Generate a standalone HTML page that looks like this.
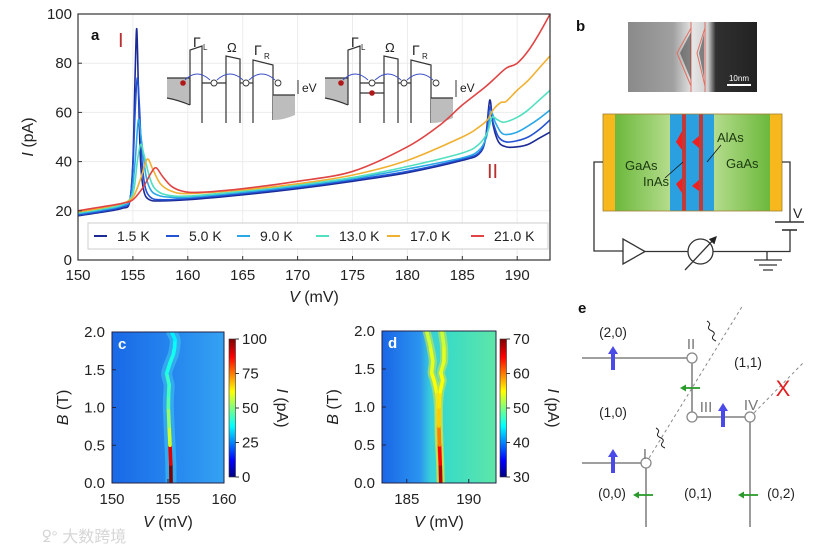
<!DOCTYPE html>
<html><head><meta charset="utf-8"><style>
html,body{margin:0;padding:0;background:#fff;}
svg{display:block;font-family:"Liberation Sans","Noto Sans CJK SC",sans-serif;}
</style></head><body>
<svg id="fig" width="831" height="551" viewBox="0 0 831 551" xmlns="http://www.w3.org/2000/svg">
<defs>
<linearGradient id="jet" x1="0" y1="1" x2="0" y2="0">
<stop offset="0" stop-color="#00007f"/><stop offset="0.12" stop-color="#0000ff"/><stop offset="0.37" stop-color="#00ffff"/><stop offset="0.5" stop-color="#7fff7f"/><stop offset="0.62" stop-color="#ffff00"/><stop offset="0.87" stop-color="#ff0000"/><stop offset="1" stop-color="#7f0000"/>
</linearGradient>
<linearGradient id="bgc" x1="0" y1="0" x2="1" y2="0">
<stop offset="0" stop-color="#1a68e6"/><stop offset="0.5" stop-color="#2484ee"/><stop offset="1" stop-color="#34a2f2"/>
</linearGradient>
<linearGradient id="bgd" x1="0" y1="0" x2="1" y2="0">
<stop offset="0" stop-color="#1a66e6"/><stop offset="0.33" stop-color="#2a94f0"/><stop offset="0.43" stop-color="#38d0d8"/><stop offset="0.6" stop-color="#3cdcc4"/><stop offset="1" stop-color="#5ee6a8"/>
</linearGradient>
<linearGradient id="gaasL" x1="0" y1="0" x2="1" y2="0">
<stop offset="0" stop-color="#6cb83c"/><stop offset="1" stop-color="#b4dc8c"/>
</linearGradient>
<linearGradient id="gaasR" x1="0" y1="0" x2="1" y2="0">
<stop offset="0" stop-color="#b4dc8c"/><stop offset="1" stop-color="#6cb83c"/>
</linearGradient>
<linearGradient id="tem" x1="0" y1="0" x2="1" y2="0">
<stop offset="0" stop-color="#8a8a8a"/><stop offset="0.35" stop-color="#a0a0a0"/><stop offset="0.5" stop-color="#e6e6e6"/><stop offset="0.62" stop-color="#d0d0d0"/><stop offset="0.68" stop-color="#303030"/><stop offset="1" stop-color="#222"/>
</linearGradient>
<marker id="ah" markerWidth="6" markerHeight="6" refX="5" refY="3" orient="auto"><path d="M0,0 L6,3 L0,6 z" fill="#222"/></marker>
</defs>
<g id="panelA"></g>
<g id="panelB"></g>
<g id="panelC"></g>
<g id="panelD"></g>
<g id="panelE"></g>
<text x="42" y="542" font-size="16" fill="#d6d6d6">ꝿ° 大数跨境</text>
</svg>
<script>
// ---------- Panel a data ----------
const xTicksA = [150,155,160,165,170,175,180,185,190];
const yTicksA = [0,20,40,60,80,100];
const seriesLabels = ["1.5 K","5.0 K","9.0 K","13.0 K","17.0 K","21.0 K"];
const seriesColors = ["#1c2a96","#2352d2","#2aa8e8","#52e0c0","#f0b030","#e04444"];
const v15 = [150,152,154,154.7,155.0,155.2,155.35,155.5,155.7,156.0,156.5,157.5,160,165,170,175,180,185,186.5,187.1,187.5,187.8,188.3,189,190,191,192,193];
const i15 = [18,19.3,21,23.5,40,75,94,70,40,28,24.5,24,24.5,26.5,29,32,35.5,40.5,43,49,65,55,48,46,46,47,49.5,52];
const v50 = [150,152,154,154.7,155.0,155.2,155.4,155.6,155.8,156.1,156.6,157.5,160,165,170,175,180,185,186.5,187.1,187.5,187.8,188.3,189,190,191,192,193];
const i50 = [18.3,19.7,21.5,24,38,60,74,62,42,30,25.5,24.5,25,27,29.5,32.5,36,41,43.5,49,62,56,50,48,48.5,50,53,57];
const v90 = [150,152,154,154.8,155.2,155.5,155.8,156.2,156.7,157.5,158.5,160,165,170,175,180,185,186.5,187.2,187.6,188,188.5,189,190,191,192,193];
const i90 = [18.8,20.2,22,25,40,57,48,34,28,26,25.5,25.5,27.5,30,33,37,41.5,44.5,50,60,56,52,51,52,54.5,57.5,61];
const v130 = [150,152,154,155,155.4,155.7,156.0,156.5,157,158,160,165,170,175,180,185,186.5,187.3,187.7,188.2,188.8,190,191,192,193];
const i130 = [19.2,20.6,22.5,27,40,47,43,34,29,26.5,26,28,30.5,33.5,38,43.5,47,52,58,57,56,58,61,65,69];
const v170 = [150,152,154,155,155.7,156.3,156.8,157.5,158.5,160,165,170,175,180,185,186.5,187.3,187.8,188.5,189,190,191,192,193];
const i170 = [19.6,21,23,25.5,33,41,37,31,28,27,28.5,31,34.5,40.5,50,54,57,61,64,64.5,69,73,78,83];
const v210 = [150,152,154,155,156,156.6,157.1,157.7,158.5,159.5,161,165,170,175,180,183,185,187,188,189,190,191,192,193];
const i210 = [20,21.5,23,24.5,30,35,37.5,34,30,28,27.5,29,32,36,46,55,63,70,74,78,80,85,92,100];
const seriesV = [v15,v50,v90,v130,v170,v210];
const seriesI = [i15,i50,i90,i130,i170,i210];

// ---------- Panel c / d data ----------
const xTicksC = [150,155,160];
const xTicksD = [185,190];
const yTicksB = [0.0,0.5,1.0,1.5,2.0];
const cbTicksC = [0,25,50,75,100];
const cbTicksD = [30,40,50,60,70];
const ridgeCB = [0,0.25,0.5,0.75,1.0,1.15,1.3,1.45,1.6,1.7,1.8,1.9,2.0];
const ridgeCV = [155.27,155.25,155.18,155.1,155.03,155.05,155.1,154.88,155.2,155.47,155.6,155.63,155.33];
const ridgeCI = [100,90,58,52,46,44,43,40,40,39,38,36,32];
const ridgeDB = [0,0.25,0.5,0.75,1.0,1.2,1.35,1.45,1.6,1.8,2.0];
const ridgeD1V = [187.74,187.7,187.6,187.55,187.52,187.4,187.2,187.0,187.1,186.9,186.6];
const ridgeD2V = [187.74,187.7,187.65,187.6,187.6,187.7,187.9,187.75,188.0,188.0,187.82];
const ridgeDI = [68,65,60,57,56,55,55,54,54,53,53];

const NS="http://www.w3.org/2000/svg";
function mk(parent,tag,attrs,text){const e=document.createElementNS(NS,tag);for(const k in attrs)e.setAttribute(k,attrs[k]);if(text!==undefined)e.textContent=text;parent.appendChild(e);return e;}
function smooth(pts){let d="M"+pts[0][0].toFixed(2)+","+pts[0][1].toFixed(2);for(let i=0;i<pts.length-1;i++){const p0=pts[i-1]||pts[i],p1=pts[i],p2=pts[i+1],p3=pts[i+2]||p2;const t=0.16;const c1=[p1[0]+(p2[0]-p0[0])*t,p1[1]+(p2[1]-p0[1])*t];const c2=[p2[0]-(p3[0]-p1[0])*t,p2[1]-(p3[1]-p1[1])*t];d+=" C"+c1.map(v=>v.toFixed(2)).join(",")+" "+c2.map(v=>v.toFixed(2)).join(",")+" "+p2[0].toFixed(2)+","+p2[1].toFixed(2);}return d;}
function jet(t){t=Math.max(0,Math.min(1,t));const r=Math.max(0,Math.min(1,1.5-Math.abs(4*t-3))),g=Math.max(0,Math.min(1,1.5-Math.abs(4*t-2))),b=Math.max(0,Math.min(1,1.5-Math.abs(4*t-1)));return "rgb("+Math.round(r*255)+","+Math.round(g*255)+","+Math.round(b*255)+")";}

// ---------- Panel a ----------
const A=document.getElementById('panelA');
const xa=v=>78+(v-150)*10.98, ya=i=>260-i*2.46;
const L=78,R=550,T=14,B=260;
for(const t of xTicksA){const g=mk(A,'line',{x1:xa(t),x2:xa(t),y1:T,y2:B,stroke:'#ececec','stroke-width':1});}
for(const t of yTicksA){const g=mk(A,'line',{x1:L,x2:R,y1:ya(t),y2:ya(t),stroke:'#ececec','stroke-width':1});}
function diagram(ox,second){
  const g=mk(A,'g',{transform:'translate('+ox+',0)',stroke:'#333','stroke-width':1.2,fill:'none'});
  
  mk(g,'path',{d:'M167,78 L190,78 L190,105 Q178,100 167,98 Z',fill:'#bdbdbd',stroke:'none'});
  mk(g,'path',{d:'M167,78 L190,78 M167,98 Q178,100 190,105'});
  mk(g,'path',{d:'M190,105 L190,50 L202,46 L202,123'});
  mk(g,'path',{d:'M202,83 L226,83'});
  if(second){mk(g,'path',{d:'M202,93 L226,93'});mk(g,'circle',{cx:214,cy:93,r:2.8,fill:'#b01818',stroke:'none'});}
  mk(g,'path',{d:'M226,123 L226,56 L240,59 L240,123'});
  mk(g,'path',{d:'M240,83 L253,83'});
  const ry=second?98:95;
  mk(g,'path',{d:'M253,123 L253,60 L273,65 L273,'+(ry+25)});
  mk(g,'path',{d:'M273,'+ry+' L295,'+ry+' L295,'+(ry+20)+' Q284,'+(ry+25)+' 273,'+(ry+25)+' Z',fill:'#bdbdbd',stroke:'none'});
  mk(g,'path',{d:'M273,'+ry+' L295,'+ry});
  mk(g,'circle',{cx:183,cy:83,r:2.8,fill:'#b01818',stroke:'none'});
  for(const cx of [214,246,278]) mk(g,'circle',{cx:cx,cy:83,r:3,fill:'#fff','stroke-width':0.9});
  mk(g,'path',{d:'M185,80 Q197,68 210,80 M217,80 Q230,68 243,80 M249,80 Q262,68 275,80',stroke:'#3c4ec8','stroke-width':1});
  mk(g,'path',{d:'M298,80 L298,'+(ry-1),'stroke-width':1});
  mk(g,'text',{x:302,y:92,'font-size':12,fill:'#222',stroke:'none'},'eV');
  mk(g,'text',{x:193,y:47,'font-size':14,fill:'#222',stroke:'none'},'Γ');
  mk(g,'text',{x:203,y:50,'font-size':8,fill:'#222',stroke:'none'},'L');
  mk(g,'text',{x:227,y:52,'font-size':13,fill:'#222',stroke:'none'},'Ω');
  mk(g,'text',{x:254,y:55,'font-size':14,fill:'#222',stroke:'none'},'Γ');
  mk(g,'text',{x:264,y:59,'font-size':8,fill:'#222',stroke:'none'},'R');
}
diagram(0,false);diagram(158,true);
for(let s=0;s<seriesV.length;s++){
  const pts=seriesV[s].map((v,k)=>[xa(v),ya(seriesI[s][k])]);
  const p=mk(A,'path',{d:smooth(pts),fill:'none',stroke:seriesColors[s],'stroke-width':1.6});
  
  
}
mk(A,'rect',{x:L,y:T,width:R-L,height:B-T,fill:'none',stroke:'#333','stroke-width':1.2});
for(const t of xTicksA){mk(A,'line',{x1:xa(t),x2:xa(t),y1:B,y2:B-4,stroke:'#333'});const tx=mk(A,'text',{x:xa(t),y:B+20,'font-size':15,'text-anchor':'middle',fill:'#222'},String(t));}
for(const t of yTicksA){mk(A,'line',{x1:L,x2:L+4,y1:ya(t),y2:ya(t),stroke:'#333'});const tx=mk(A,'text',{x:L-6,y:ya(t)+5,'font-size':15,'text-anchor':'end',fill:'#222'},String(t));}
let t=mk(A,'text',{x:314,y:302,'font-size':16,'text-anchor':'middle',fill:'#222'});t.innerHTML='<tspan font-style="italic">V</tspan> (mV)';
t=mk(A,'text',{x:0,y:0,'font-size':16,'text-anchor':'middle',fill:'#222',transform:'translate(33,137) rotate(-90)'});t.innerHTML='<tspan font-style="italic">I</tspan> (pA)';
mk(A,'text',{x:91,y:40,'font-size':15,'font-weight':'bold',fill:'#111'},'a');
mk(A,'text',{x:118,y:47,'font-size':20,fill:'#b83030'},'I');
mk(A,'text',{x:487,y:178,'font-size':20,fill:'#b83030'},'II');
const lg=mk(A,'g',{});
mk(lg,'rect',{x:88,y:223,width:460,height:26,fill:'#fff',stroke:'#ccc','stroke-width':1});
const lx=[94,166,237,316,387,471];
for(let s=0;s<seriesLabels.length;s++){
  const e=mk(lg,'g',{});
  mk(e,'line',{x1:lx[s],x2:lx[s]+13,y1:236,y2:236,stroke:seriesColors[s],'stroke-width':2});
  mk(e,'text',{x:lx[s]+23,y:241,'font-size':14,fill:'#222'},seriesLabels[s]);
}

// ---------- Panel b ----------
const Bp=document.getElementById('panelB');
mk(Bp,'text',{x:576,y:31,'font-size':15,'font-weight':'bold',fill:'#111'},'b');
const tm=mk(Bp,'g',{});
mk(tm,'rect',{x:628,y:22,width:129,height:70,fill:'url(#tem)'});
mk(tm,'path',{d:'M691,28 L677,53 L691,86 M705,28 L697,53 L705,86 M691,22 L691,92 M705,22 L705,92',stroke:'#e07060','stroke-width':1,fill:'none'});
mk(tm,'path',{d:'M691,32 L680,53 L691,80 Z M704,34 L699,53 L704,78 Z',fill:'#444',opacity:0.6});
mk(tm,'line',{x1:727,x2:751,y1:85,y2:85,stroke:'#fff','stroke-width':2});
mk(tm,'text',{x:739,y:81,'font-size':8,'text-anchor':'middle',fill:'#fff'},'10nm');
const dv=mk(Bp,'g',{});
mk(dv,'rect',{x:615,y:114,width:55,height:97,fill:'url(#gaasL)'});
mk(dv,'rect',{x:714,y:114,width:56,height:97,fill:'url(#gaasR)'});
mk(dv,'rect',{x:603,y:114,width:12,height:97,fill:'#f6b81c'});
mk(dv,'rect',{x:770,y:114,width:12,height:97,fill:'#f6b81c'});
mk(dv,'rect',{x:670,y:114,width:44,height:97,fill:'#2aa0e0'});
mk(dv,'rect',{x:682,y:114,width:4,height:97,fill:'#c03a3a'});
mk(dv,'rect',{x:699,y:114,width:4,height:97,fill:'#c03a3a'});
mk(dv,'path',{d:'M682,131 L676,142 L682,150 Z M682,178 L676,184 L682,193 Z M699,136 L692,142 L699,148 Z M699,180 L692,186 L699,191 Z',fill:'#f02020'});
mk(dv,'rect',{x:603,y:114,width:179,height:97,fill:'none',stroke:'#a08030','stroke-width':0.8});
mk(dv,'text',{x:625,y:170,'font-size':13,fill:'#1c3a10'},'GaAs');
mk(dv,'text',{x:726,y:168,'font-size':13,fill:'#1c3a10'},'GaAs');
mk(dv,'text',{x:643,y:186,'font-size':13,fill:'#1c3a10'},'InAs');
mk(dv,'text',{x:717,y:142,'font-size':13,fill:'#1c3a10'},'AlAs');
mk(dv,'line',{x1:665,y1:178,x2:683,y2:162,stroke:'#111','stroke-width':0.8});
mk(dv,'line',{x1:721,y1:145,x2:707,y2:162,stroke:'#111','stroke-width':0.8});
const cc=mk(Bp,'g',{stroke:'#333','stroke-width':1.3,fill:'none'});
mk(cc,'path',{d:'M603,162 L594,162 L594,251 L623,251'});
mk(cc,'path',{d:'M623,239 L623,264 L645,251.5 Z'});
mk(cc,'path',{d:'M645,251.5 L688,251.5 M713,251.5 L790,251.5 L790,230 M790,222 L790,162 L782,162'});
mk(cc,'circle',{cx:700.5,cy:251.5,r:12.5});
mk(cc,'line',{x1:685,y1:270,x2:716,y2:237,'marker-end':'url(#ah)'});
mk(cc,'line',{x1:775,y1:222,x2:804,y2:222,'stroke-width':1.6});
mk(cc,'line',{x1:782,y1:230,x2:797,y2:230,'stroke-width':1.6});
mk(cc,'path',{d:'M767,251.5 L767,260 M754,260 L782,260 M759,265 L777,265 M763,270 L773,270'});
mk(Bp,'text',{x:793,y:218,'font-size':14,fill:'#222'},'V');

// ---------- Heatmaps ----------
function heat(G,opt){
  const {x0,x1,y0,y1,vmin,vmax,bg,label,xt,cbx,cbt,cmin,cmax}=opt;
  const xs=v=>x0+(v-vmin)*(x1-x0)/(vmax-vmin), ys=b=>y1-b*(y1-y0)/2;
  const bgR=mk(G,'rect',{x:x0,y:y0,width:x1-x0,height:y1-y0,fill:bg});
  const cl=mk(G,'clipPath',{id:'clip'+label});mk(cl,'rect',{x:x0,y:y0,width:x1-x0,height:y1-y0});
  const rg=mk(G,'g',{'clip-path':'url(#clip'+label+')'});
  for(const r of opt.ridges){
    const pts=r.B.map((b,k)=>[xs(r.V[k]),ys(b)]);
    const glow=mk(rg,'path',{d:smooth(pts),fill:'none',stroke:r.glow,'stroke-width':r.gw,opacity:0.55,'stroke-linecap':'round'});
    
    for(let k=0;k<pts.length-1;k++){
      const seg=mk(rg,'line',{x1:pts[k][0],y1:pts[k][1],x2:pts[k+1][0],y2:pts[k+1][1],stroke:jet((r.I[k]-cmin)/(cmax-cmin)),'stroke-width':r.w,'stroke-linecap':'round'});
      
      
    }
  }
  mk(G,'rect',{x:x0,y:y0,width:x1-x0,height:y1-y0,fill:'none',stroke:'#224','stroke-width':1});
  mk(G,'text',{x:x0+6,y:y0+17,'font-size':15,'font-weight':'bold',fill:'#fff'},label);
  for(const v of xt){mk(G,'line',{x1:xs(v),x2:xs(v),y1:y1,y2:y1-4,stroke:'#224'});const tx=mk(G,'text',{x:xs(v),y:y1+21,'font-size':15,'text-anchor':'middle',fill:'#222'},String(v));}
  for(const b of yTicksB){mk(G,'line',{x1:x0,x2:x0+4,y1:ys(b),y2:ys(b),stroke:'#224'});const tx=mk(G,'text',{x:x0-7,y:ys(b)+5,'font-size':15,'text-anchor':'end',fill:'#222'},b.toFixed(1));}
  let tt=mk(G,'text',{x:(x0+x1)/2,y:y1+44,'font-size':16,'text-anchor':'middle',fill:'#222'});tt.innerHTML='<tspan font-style="italic">V</tspan> (mV)';
  tt=mk(G,'text',{x:0,y:0,'font-size':16,'text-anchor':'middle',fill:'#222',transform:'translate('+(x0-44)+','+((y0+y1)/2)+') rotate(-90)'});tt.innerHTML='<tspan font-style="italic">B</tspan> (T)';
  const cb=mk(G,'rect',{x:cbx,y:339,width:6.5,height:138,fill:'url(#jet)',stroke:'#333','stroke-width':0.6});
  for(const c of cbt){const yy=477-(c-cmin)/(cmax-cmin)*138;mk(G,'line',{x1:cbx+6.5,x2:cbx+10,y1:yy,y2:yy,stroke:'#333'});const tx=mk(G,'text',{x:cbx+13,y:yy+5,'font-size':15,fill:'#222'},String(c));}
  tt=mk(G,'text',{x:0,y:0,'font-size':16,'text-anchor':'middle',fill:'#222',transform:'translate('+(cbx+48)+',408) rotate(90)'});tt.innerHTML='<tspan font-style="italic">I</tspan> (pA)';
}
heat(document.getElementById('panelC'),{x0:112,x1:224,y0:332,y1:483,vmin:150,vmax:160,bg:'url(#bgc)',label:'c',xt:xTicksC,cbx:229,cbt:cbTicksC,cmin:0,cmax:100,
  ridges:[{B:ridgeCB,V:ridgeCV,I:ridgeCI,w:3.6,gw:11,glow:'#40c8f0'}]});
heat(document.getElementById('panelD'),{x0:382,x1:496,y0:331,y1:483,vmin:183,vmax:192.2,bg:'url(#bgd)',label:'d',xt:xTicksD,cbx:500,cbt:cbTicksD,cmin:30,cmax:70,
  ridges:[{B:ridgeDB,V:ridgeD1V,I:ridgeDI,w:3.5,gw:8,glow:'#d8e840'},{B:ridgeDB,V:ridgeD2V,I:ridgeDI,w:3.5,gw:8,glow:'#d8e840'}]});

// ---------- Panel e ----------
const E=document.getElementById('panelE');
mk(E,'text',{x:578,y:313,'font-size':15,'font-weight':'bold',fill:'#111'},'e');
const ge=mk(E,'g',{stroke:'#666','stroke-width':1.3,fill:'none'});
mk(ge,'path',{d:'M582,358 L692,358 L692,417 L750,417 L750,527 M582,463 L646,463 L646,527'});
mk(ge,'path',{d:'M646,463 L743,305 M750,417 L803,363',stroke:'#888','stroke-dasharray':'3,3','stroke-width':1});
for(const [cx,cy] of [[646,463],[692,417],[692,358],[750,417]]){const c=mk(ge,'circle',{cx:cx,cy:cy,r:5,fill:'#fff',stroke:'#888'});}
mk(ge,'path',{d:'M707,321 q4,2 2,5 q-2,3 3,5 q4,2 1,5 q-2,3 3,5 M656,428 q4,2 2,5 q-2,3 3,5 q4,2 1,5 q-2,3 3,5',stroke:'#222','stroke-width':1});
const lbl=[['(2,0)',613,337],['(1,1)',748,367],['(1,0)',613,417],['(0,0)',612,498],['(0,1)',698,498],['(0,2)',781,498]];
for(const [s,x,y] of lbl){const tx=mk(E,'text',{x:x,y:y,'font-size':13.5,'text-anchor':'middle',fill:'#222'},s);}
for(const [s,x,y] of [['II',691,349],['III',706,412],['IV',751,410],['I',645,459]]) mk(E,'text',{x:x,y:y,'font-size':15,'text-anchor':'middle',fill:'#777'},s);
mk(E,'text',{x:783,y:396,'font-size':22,'text-anchor':'middle',fill:'#e02020'},'X');
for(const [x,yb] of [[613,370],[613,473],[723,427]]){mk(E,'path',{d:'M'+(x-2)+','+yb+' L'+(x-2)+','+(yb-16)+' L'+(x-5)+','+(yb-16)+' L'+x+','+(yb-24)+' L'+(x+5)+','+(yb-16)+' L'+(x+2)+','+(yb-16)+' L'+(x+2)+','+yb+' Z',fill:'#4a4ae8'});}
for(const [x1,y] of [[680,388],[633,495],[738,495]]){mk(E,'path',{d:'M'+(x1+20)+','+y+' L'+(x1+5)+','+y,stroke:'#2a9a2a','stroke-width':1.8});mk(E,'path',{d:'M'+x1+','+y+' L'+(x1+6)+','+(y-3.5)+' L'+(x1+6)+','+(y+3.5)+' Z',fill:'#2a9a2a'});}
</script>
</body></html>
